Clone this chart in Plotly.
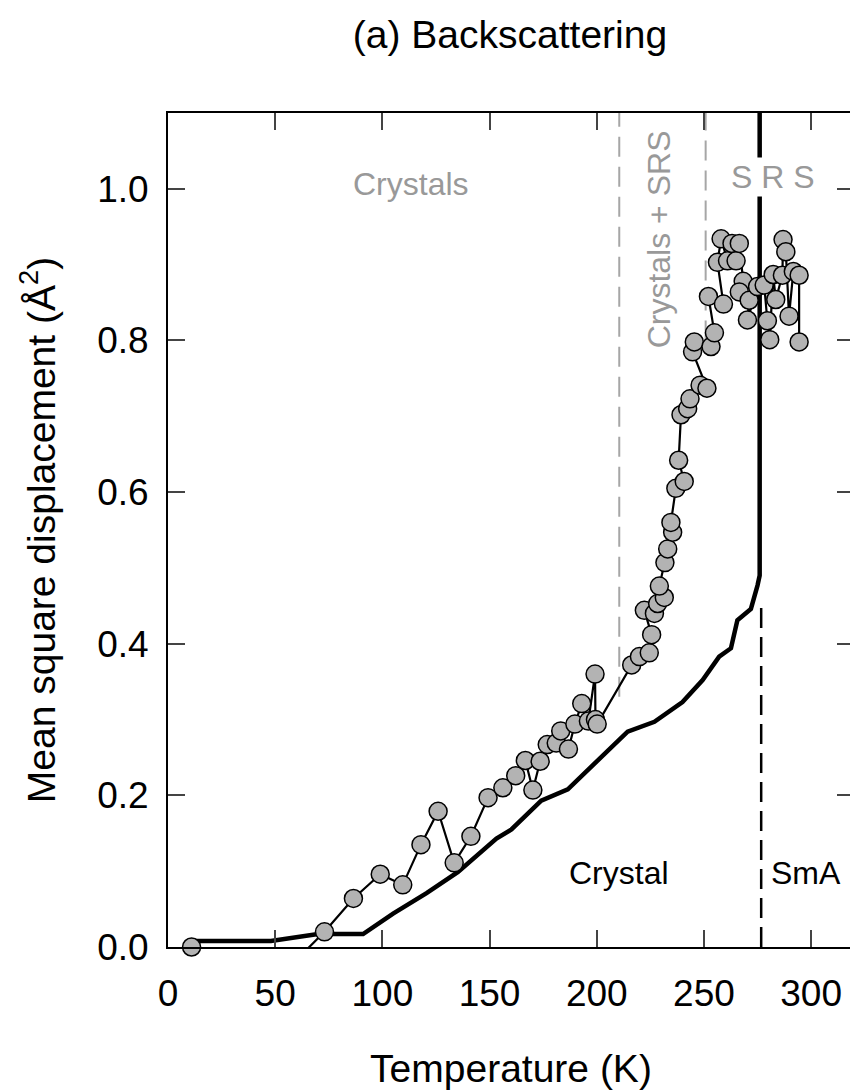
import plotly.graph_objects as go

# Observed data (grey circles, thin line). Point at T=50 lies below the axis (only line visible).
T_obs = [11, 50, 73, 86.5, 99, 109.5, 118, 126, 133.5, 141.3, 149.3, 156.2, 162.2, 166.7, 170.2,
         173.6, 176.9, 181.1, 183.2, 186.8, 189.8, 193, 196.1, 199.2, 199.4, 200.2, 216.3,
         219.9, 224.5, 225.6, 222.2, 226.9, 228.4, 231.5, 229.2, 231.8, 233.1, 235.4, 234.6,
         236.9, 240.8, 238.2, 239.3, 242.4, 243.5, 248.2, 251.4, 244.7, 245.5, 253.3, 254.9,
         252.1, 259.1, 256.3, 258, 261, 263.1, 265, 266.5, 268.3, 266.5, 271.1, 270.3, 275,
         278.1, 279.6, 280.7, 282.3, 283.5, 286.6, 286.9, 288.2, 289.7, 291.7, 294.4, 294.4]
msd_obs = [0.0, -0.045, 0.02, 0.064, 0.096, 0.082, 0.135, 0.179, 0.111, 0.146, 0.197, 0.210,
           0.226, 0.246, 0.207, 0.245, 0.267, 0.269, 0.285, 0.261, 0.294, 0.321, 0.298, 0.360,
           0.300, 0.294, 0.372, 0.383, 0.388, 0.412, 0.444, 0.440, 0.453, 0.461, 0.476, 0.507,
           0.525, 0.547, 0.560, 0.605, 0.614, 0.642, 0.702, 0.710, 0.723, 0.741, 0.737, 0.785,
           0.798, 0.792, 0.810, 0.858, 0.848, 0.903, 0.934, 0.905, 0.928, 0.905, 0.928, 0.878,
           0.864, 0.853, 0.827, 0.871, 0.873, 0.826, 0.801, 0.887, 0.854, 0.886, 0.933, 0.917,
           0.832, 0.891, 0.886, 0.798]

# Thick black curve
T_fit = [11, 48, 70, 91, 105, 120.6, 135.3, 153.2, 160.2, 174.1, 186.5, 199.7, 214.4, 226.9,
         240, 249.4, 257.1, 262.6, 265.6, 271.9, 273.4, 275, 276, 276]
msd_fit = [0.008, 0.008, 0.017, 0.017, 0.044, 0.071, 0.099, 0.143, 0.155, 0.193, 0.208, 0.244,
           0.284, 0.297, 0.323, 0.352, 0.383, 0.394, 0.431, 0.446, 0.460, 0.477, 0.49, 1.2]

# Phase boundary lines
grey_bounds_T = [210.5, 250.8]
grey_bounds_y0 = [0.33, 0.80]
sma_T = 276.7
sma_y1 = 0.45

x_ticks = [0, 50, 100, 150, 200, 250, 300]
y_ticks = [0.0, 0.2, 0.4, 0.6, 0.8, 1.0]

FONT = "Liberation Sans, Arial, sans-serif"
GREY = "#999999"

fig = go.Figure()

for t, y0 in zip(grey_bounds_T, grey_bounds_y0):
    fig.add_trace(go.Scatter(x=[t, t], y=[y0, 1.1], mode="lines",
                             line=dict(color="#a6a6a6", width=2, dash="20px,10px"),
                             showlegend=False, hoverinfo="skip"))
fig.add_trace(go.Scatter(x=[sma_T, sma_T], y=[0, sma_y1], mode="lines",
                         line=dict(color="black", width=2.5, dash="20px,9px"),
                         showlegend=False, hoverinfo="skip"))

fig.add_trace(go.Scatter(x=T_fit, y=msd_fit, mode="lines",
                         line=dict(color="black", width=4.5), showlegend=False))

fig.add_trace(go.Scatter(x=T_obs, y=msd_obs, mode="lines",
                         line=dict(color="black", width=2.2), showlegend=False))

vis = [i for i, v in enumerate(msd_obs) if v >= 0]
fig.add_trace(go.Scatter(x=[T_obs[i] for i in vis], y=[msd_obs[i] for i in vis],
                         mode="markers", cliponaxis=False,
                         marker=dict(size=18, color="#b3b3b3",
                                     line=dict(color="black", width=1.5)),
                         showlegend=False))

annos = [
    dict(x=113.5, y=1.007, text="Crystals", color=GREY, angle=0),
    dict(x=228.8, y=0.934, text="Crystals + SRS", color=GREY, angle=-90),
    dict(x=282.4, y=1.015, text="S R S", color=GREY, angle=0),
    dict(x=210.6, y=0.097, text="Crystal", color="black", angle=0),
    dict(x=297.5, y=0.097, text="SmA", color="black", angle=0),
]
for a in annos:
    fig.add_annotation(x=a["x"], y=a["y"], text=a["text"], showarrow=False,
                       textangle=a["angle"], bgcolor="white" if a["text"] == "S R S" else None,
                       font=dict(family=FONT, size=32, color=a["color"]))

# page has an 8px body margin, so the figure is 850x1083 drawn at (8, 8)
fig.update_layout(
    width=850, height=1083,
    margin=dict(l=160, r=2, t=105, b=144),
    paper_bgcolor="white", plot_bgcolor="white",
    font=dict(family=FONT, color="black"),
    title=dict(text="(a) Backscattering", x=0.5906, xanchor="center", y=0.976, yanchor="middle",
               font=dict(family=FONT, size=39, color="black")),
)
fig.update_xaxes(range=[0, 320], tickvals=x_ticks, ticks="inside", ticklen=17, tickwidth=2,
                 showline=True, linecolor="black", linewidth=2, mirror="ticks",
                 showgrid=False, zeroline=False, tickfont=dict(family=FONT, size=37),
                 ticklabelstandoff=13,
                 title=dict(text="Temperature (K)", font=dict(family=FONT, size=39), standoff=41))
fig.update_yaxes(range=[0, 1.1], tickvals=y_ticks, tickformat=".1f", ticks="inside", ticklen=17,
                 tickwidth=2, showline=True, linecolor="black", linewidth=2, mirror="ticks",
                 showgrid=False, zeroline=False, tickfont=dict(family=FONT, size=37),
                 ticklabelstandoff=10,
                 title=dict(text="Mean square displacement (Å<sup>2</sup>)",
                            font=dict(family=FONT, size=39), standoff=30))

fig.write_html("out.html")
